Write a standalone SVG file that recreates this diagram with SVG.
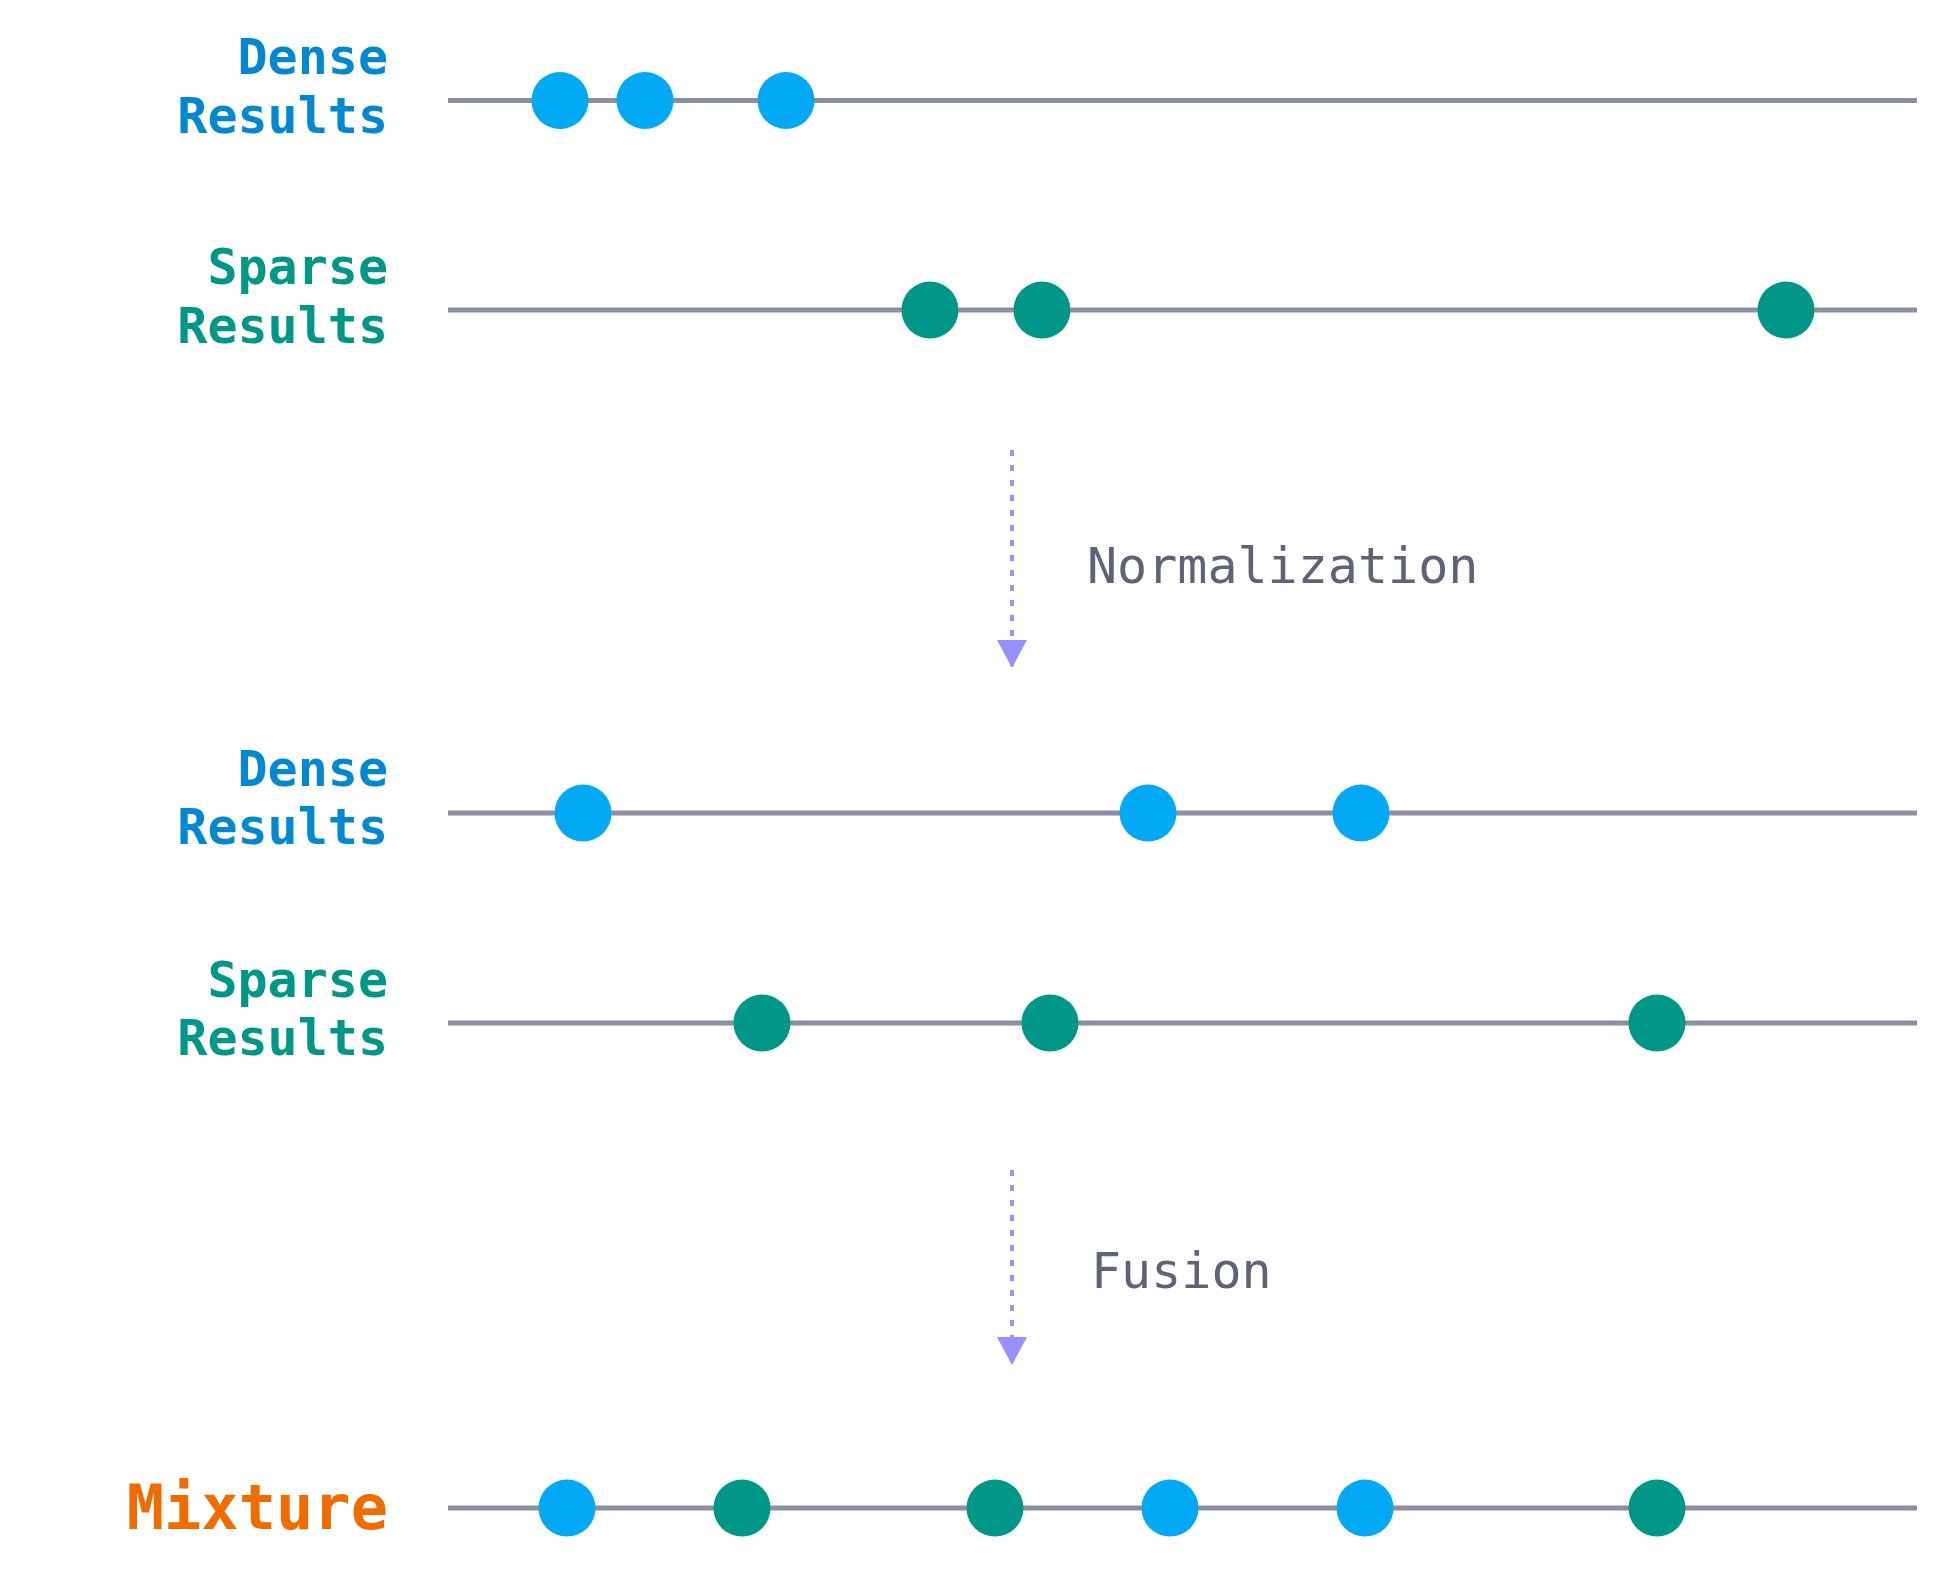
<svg xmlns="http://www.w3.org/2000/svg" width="1936" height="1588" viewBox="0 0 1936 1588">
<style>
.lab{font-family:"DejaVu Sans Mono",monospace;font-weight:bold;font-size:50px;text-anchor:end}
.d{fill:#0288d1}.s{fill:#009688}
.axis{stroke:#8a8fa3;stroke-width:5}
.b{fill:#03a9f4}.g{fill:#009688}
.arr{stroke:#9990ff;stroke-width:4;stroke-dasharray:6 9;fill:none}
.note{font-family:"DejaVu Sans Mono",monospace;font-size:50px;fill:#5f6378}
</style>
<defs><marker id="ah" markerWidth="10" markerHeight="10" refX="5" refY="10" orient="auto" markerUnits="userSpaceOnUse" viewBox="0 0 10 10"><path d="M0,0 L10,0 L5,10 z" fill="#9990ff"/></marker></defs>
<rect width="1936" height="1588" fill="#fff"/>
<g id="row1"><text class="lab d" x="388" y="74">Dense</text><text class="lab d" x="388" y="133">Results</text><line class="axis" x1="448" y1="100.5" x2="1917" y2="100.5"/><circle class="b" cx="560" cy="100.5" r="28.5"/><circle class="b" cx="645" cy="100.5" r="28.5"/><circle class="b" cx="786" cy="100.5" r="28.5"/></g>
<g id="row2"><text class="lab s" x="388" y="284">Sparse</text><text class="lab s" x="388" y="343">Results</text><line class="axis" x1="448" y1="310" x2="1917" y2="310"/><circle class="g" cx="930" cy="310" r="28.5"/><circle class="g" cx="1042" cy="310" r="28.5"/><circle class="g" cx="1786" cy="310" r="28.5"/></g>
<g id="row3"><text class="lab d" x="388" y="786">Dense</text><text class="lab d" x="388" y="844">Results</text><line class="axis" x1="448" y1="813" x2="1917" y2="813"/><circle class="b" cx="583" cy="813" r="28.5"/><circle class="b" cx="1148" cy="813" r="28.5"/><circle class="b" cx="1361" cy="813" r="28.5"/></g>
<g id="row4"><text class="lab s" x="388" y="997">Sparse</text><text class="lab s" x="388" y="1055">Results</text><line class="axis" x1="448" y1="1023" x2="1917" y2="1023"/><circle class="g" cx="762" cy="1023" r="28.5"/><circle class="g" cx="1050" cy="1023" r="28.5"/><circle class="g" cx="1657" cy="1023" r="28.5"/></g>
<g id="row5"><text class="lab" x="388" y="1529" style="font-size:62px;fill:#ef6c00">Mixture</text><line class="axis" x1="448" y1="1508" x2="1917" y2="1508"/><circle class="b" cx="567" cy="1508" r="28.5"/><circle class="g" cx="742" cy="1508" r="28.5"/><circle class="g" cx="995" cy="1508" r="28.5"/><circle class="b" cx="1170" cy="1508" r="28.5"/><circle class="b" cx="1365" cy="1508" r="28.5"/><circle class="g" cx="1657" cy="1508" r="28.5"/></g>
<g id="connectors">
<path class="arr" d="M1012,450 L1012,668"/><path d="M997,640 L1027,640 L1012,668 z" fill="#9990ff"/>
<path class="arr" d="M1012,1170 L1012,1365"/><path d="M997,1337 L1027,1337 L1012,1365 z" fill="#9990ff"/>
<text class="note" x="1087" y="583">Normalization</text>
<text class="note" x="1091" y="1288">Fusion</text>
</g>
</svg>
